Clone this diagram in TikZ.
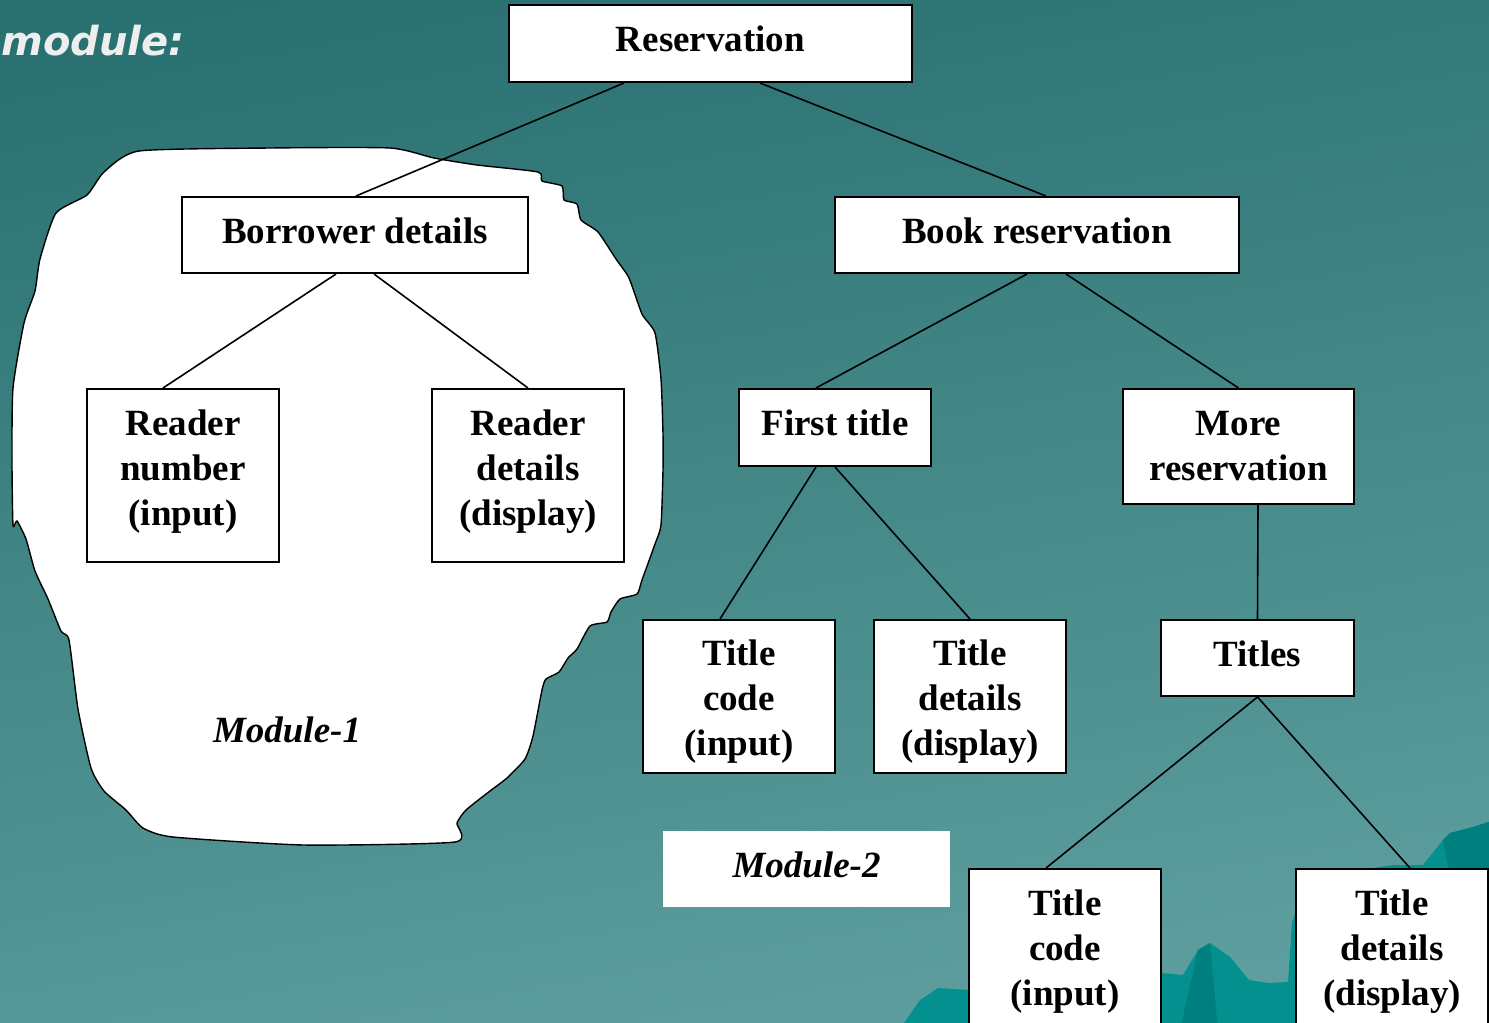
\documentclass[tikz,border=0pt]{standalone}
\usepackage{fontspec}
\setmainfont{Liberation Serif}
\newfontfamily\handfont{DejaVu Sans}
\usetikzlibrary{calc}
\definecolor{bgtop}{HTML}{297070}
\definecolor{bgbot}{HTML}{60A0A0}
\definecolor{hill}{HTML}{04908F}
\definecolor{hilldark}{HTML}{007F80}
\definecolor{headtext}{HTML}{EEEEEE}
\tikzset{
  box/.style={draw=black, line width=1pt, fill=white, inner sep=0pt},
  boxtext/.style={align=center, inner sep=0pt,
    font=\fontsize{18.5}{22.5}\selectfont\bfseries},
  link/.style={draw=black, line width=0.8pt},
  blob/.style={draw=black, line width=0.7pt, fill=white},
  tag/.style={font=\fontsize{18.5}{22.5}\selectfont\bfseries\itshape, inner sep=0pt}
}
\begin{document}
\begin{tikzpicture}[x=0.5pt, y=-0.5pt]
\clip (0,0) rectangle (1489,1023);
% background
\shade[top color=bgtop, bottom color=bgbot, shading angle=10] (-50,-50) rectangle (1539,1073);
% hills in the lower right corner
\fill[hill] (899,1030) -- (920,1000) -- (938,988) -- (969,990) -- (1162,973) -- (1183,975)
  -- (1198,950) -- (1210,943) -- (1230,957) -- (1249,980) -- (1268,983) -- (1288,982)
  -- (1292,923) -- (1300,900) -- (1327,868) -- (1360,870) -- (1393,865) -- (1423,865)
  -- (1427,860) -- (1443,840) -- (1450,833) -- (1473,827) -- (1495,820) -- (1495,1030) -- cycle;
\fill[hilldark] (1198,950) -- (1210,943) -- (1218,1030) -- (1180,1030) -- cycle;
\fill[hilldark] (1443,840) -- (1450,833) -- (1473,827) -- (1495,820) -- (1495,1030) -- (1460,1030) -- (1455,900) -- cycle;
% heading fragment
\node[anchor=base west, inner sep=0pt, text=headtext,
  font=\handfont\fontsize{20}{24}\selectfont\bfseries\itshape] (head) at (1,55) {module:};
% module 1 outline
\path[blob] plot[smooth cycle, tension=0.35] coordinates {
  (139,151) (270,148) (390,148) (434,158) (477,165) (538,172) (542,181) (562,186)
  (564,200) (577,204) (581,220) (598,232) (616,259) (629,278) (642,314) (655,333)
  (661,379) (663,434) (663,470) (661,525) (655,544) (642,580) (637,594) (620,599)
  (611,612) (607,622) (590,626) (577,649) (568,658) (559,672) (546,679) (542,690)
  (533,736) (525,759) (507,778) (490,791) (466,810) (457,823) (455,842)
  (304,845) (173,837) (143,828) (126,810) (104,791) (91,768) (78,709) (69,640)
  (61,631) (48,599) (35,571) (26,539) (17,521) (13,525) (12,461) (13,388)
  (24,323) (35,291) (40,259) (56,213) (87,195) (104,172)};
\node[tag] (m1) at (287,730) {Module-1};
% module 2 label
\node[fill=white, minimum width=143.5pt, minimum height=38pt, inner sep=0pt] (m2box) at (806.5,869) {};
\node[tag] (m2) at (806.5,865) {Module-2};
% boxes
\node[box, minimum width=201.5pt, minimum height=38.5pt] (res)  at (710.5,43.5)   {};
\node[box, minimum width=173pt,   minimum height=38pt]   (bor)  at (355,235)      {};
\node[box, minimum width=202pt,   minimum height=38pt]   (book) at (1037,235)     {};
\node[box, minimum width=96pt,    minimum height=86.5pt] (rn)   at (183,475.5)    {};
\node[box, minimum width=96pt,    minimum height=86.5pt] (rd)   at (528,475.5)    {};
\node[box, minimum width=96pt,    minimum height=38.5pt] (ft)   at (835,427.5)    {};
\node[box, minimum width=115.5pt, minimum height=57.5pt] (more) at (1238.5,446.5) {};
\node[box, minimum width=96pt,    minimum height=76.5pt] (tca)  at (739,696.5)    {};
\node[box, minimum width=96pt,    minimum height=76.5pt] (tda)  at (970,696.5)    {};
\node[box, minimum width=96.5pt,  minimum height=38pt]   (tit)  at (1257.5,658)   {};
\node[box, minimum width=96pt,    minimum height=79pt]   (tcb)  at (1065,948)     {};
\node[box, minimum width=96pt,    minimum height=79pt]   (tdb)  at (1392,948)     {};
% box texts
\node[boxtext] (res-t)  at ($(res)+(0,-5)$)    {Reservation};
\node[boxtext] (bor-t)  at ($(bor)+(0,-4)$)    {Borrower details};
\node[boxtext] (book-t) at ($(book)+(0,-4)$)   {Book reservation};
\node[boxtext] (rn-t)   at ($(rn)+(0,-4)$)     {Reader\\number\\(input)};
\node[boxtext] (rd-t)   at ($(rd)+(0,-4)$)     {Reader\\details\\(display)};
\node[boxtext] (ft-t)   at ($(ft)+(0,-5)$)     {First title};
\node[boxtext] (more-t) at (more)              {More\\reservation};
\node[boxtext] (tca-t)  at ($(tca)+(0,5.5)$)   {Title\\code\\(input)};
\node[boxtext] (tda-t)  at ($(tda)+(0,5.5)$)   {Title\\details\\(display)};
\node[boxtext] (tit-t)  at ($(tit)+(0,-4)$)    {Titles};
\node[boxtext] (tcb-t)  at ($(tcb)+(0,4)$)     {Title\\code\\(input)};
\node[boxtext] (tdb-t)  at ($(tdb)+(0,4)$)     {Title\\details\\(display)};
% connectors
\draw[link] ($(res.south)+(-86.5,0)$) -- ($(bor.north)+(1,0)$);
\draw[link] ($(res.south)+(49.5,0)$)  -- ($(book.north)+(9,0)$);
\draw[link] ($(bor.south)+(-19,0)$)   -- ($(rn.north)+(-20,0)$);
\draw[link] ($(bor.south)+(19,0)$)    -- (rd.north);
\draw[link] ($(book.south)+(-10,0)$)  -- ($(ft.north)+(-19,0)$);
\draw[link] ($(book.south)+(29,0)$)   -- (more.north);
\draw[link] ($(ft.south)+(-19,0)$)    -- ($(tca.north)+(-19,0)$);
\draw[link] (ft.south)                -- (tda.north);
\draw[link] ($(more.south)+(19.5,0)$) -- (tit.north);
\draw[link] (tit.south)               -- ($(tcb.north)+(-19,0)$);
\draw[link] (tit.south)               -- ($(tdb.north)+(18,0)$);
\end{tikzpicture}
\end{document}
